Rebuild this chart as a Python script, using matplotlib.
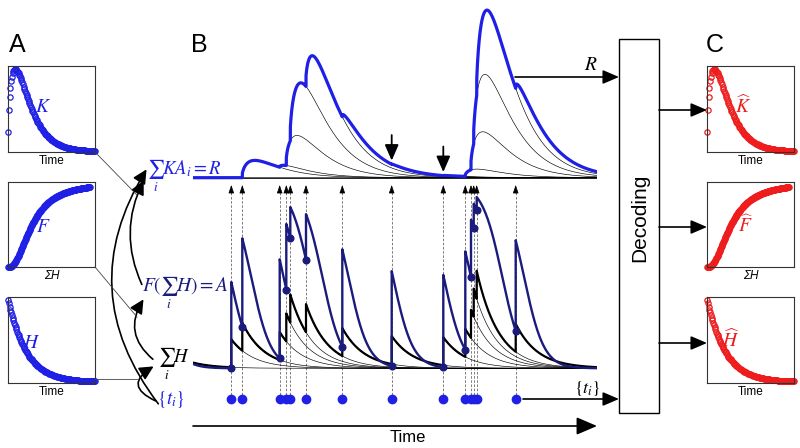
import matplotlib
matplotlib.use('Agg')
import matplotlib.pyplot as plt
import numpy as np
from matplotlib.patches import Rectangle, FancyArrowPatch

plt.rcParams['font.family'] = ['Liberation Sans', 'DejaVu Sans']
plt.rcParams['mathtext.fontset'] = 'stix'

W, HT = 800, 448

# spike times {t_i} in seconds
spike_times = np.array([0.383, 0.493, 0.867, 0.933, 0.973, 1.130, 1.493, 1.987,
                        2.503, 2.723, 2.780, 2.807, 2.837, 3.227])
prior_spike = -0.35        # spike before the window, its H tail shows at t = 0
silent_spikes = [7, 8]     # spikes with A_i = 0, marked with the down arrows
t_end = 4.04

# model parameters
tau_h = 0.22                          # decay of H (s)
f_max, f_half, f_hill = 6.6, 1.1, 2.2  # F(sum H), hill shape
k_peak, k_shape, k_offset = 0.13, 0.6, 0.0043

# sample ranges shown in the small kernel boxes
k_box_len, h_box_len, f_box_len = 1.57, 1.05, 3.76
n_k, n_h, n_f = 120, 120, 200

blue = '#1f1fe6'
navy = '#1b1b7d'
red = '#ee1c1c'


def H(t):
    return np.where(t >= 0, np.exp(-np.clip(t, 0, None) / tau_h), 0.0)


def F(x):
    return f_max * x**f_hill / (x**f_hill + f_half**f_hill)


def K(t):
    x = (np.clip(t, 0, None) + k_offset) / k_peak
    return np.where(t >= 0, (x * np.exp(1 - x))**k_shape, 0.0)


# ---- model traces ----
t = np.sort(np.concatenate([np.linspace(0, t_end, 4000), spike_times, spike_times - 1e-6]))
all_spikes = np.concatenate([[prior_spike], spike_times])
h_parts = np.cumsum([H(t - s) for s in all_spikes], axis=0)
sum_h = h_parts[-1]
A = F(sum_h)

pre_h = np.array([H(ti - all_spikes[all_spikes < ti]).sum() for ti in spike_times])
A_i = F(pre_h)
r_parts = np.cumsum([a * K(t - s) for a, s in zip(A_i, spike_times)], axis=0)
R = r_parts[-1]

fig = plt.figure(figsize=(8, 4.48), dpi=100)


def px_axes(x0, y0, x1, y1):
    return fig.add_axes([x0 / W, 1 - y1 / HT, (x1 - x0) / W, (y1 - y0) / HT])


# time axes for dots and dashed arrows (y in pixels)
axT = px_axes(193, 0, 597, 448)
axT.set_xlim(0, t_end)
axT.set_ylim(448, 0)
axT.axis('off')
for ti in spike_times:
    axT.plot([ti, ti], [399, 190], color='#666666', lw=0.6, ls=(0, (3, 2)))
    axT.annotate('', xy=(ti, 185), xytext=(ti, 193),
                 arrowprops=dict(arrowstyle='-|>,head_length=0.5,head_width=0.17',
                                 color='k', lw=0.5, mutation_scale=10,
                                 shrinkA=0, shrinkB=0))
axT.plot(spike_times, np.full(len(spike_times), 399), 'o', color=blue, ms=6)

# panel B, sum H and A
a_base, a_scale = 368.3, 28.0
axA = px_axes(193, 190, 597, 380)
axA.set_xlim(0, t_end)
axA.set_ylim(-(380 - a_base) / a_scale, (a_base - 190) / a_scale)
axA.axis('off')
for part in h_parts[:-1]:
    axA.plot(t, part, color='k', lw=0.45)
axA.plot(t, sum_h, color='k', lw=1.6)
axA.plot(t, A, color=navy, lw=1.7)
axA.plot(spike_times, A_i, 'o', color=navy, ms=4.8)

# panel B, R
r_base, r_scale = 177.7, 11.6
axR = px_axes(193, 0, 597, 186)
axR.set_xlim(0, t_end)
axR.set_ylim(-(186 - r_base) / r_scale, r_base / r_scale)
axR.axis('off')
axR.axhline(0, color='k', lw=0.6)
for part in r_parts[:-1]:
    axR.plot(t, part, color='k', lw=0.45)
axR.plot(t, R, color=blue, lw=2.3)
for i in silent_spikes:
    r_here = np.interp(spike_times[i], t, R)
    axR.annotate('', xy=(spike_times[i], r_here + 0.3), xytext=(spike_times[i], r_here + 2.5),
                 arrowprops=dict(arrowstyle='-|>,head_length=0.8,head_width=0.35',
                                 color='k', lw=1.3, mutation_scale=12,
                                 shrinkA=0, shrinkB=0))

# small kernel boxes, panels A and C
tk = np.linspace(0, k_box_len, n_k)
th = np.linspace(0, h_box_len, n_h)
xf = np.linspace(0, f_box_len, n_f)
boxes = [(66, 152.3, tk, K(tk), (0, k_box_len), (-0.01, 1.04), 'Time'),
         (181.7, 267.3, xf, F(xf), (0, 4.0), (0, f_max), 'ΣH'),
         (297, 383, th, H(th), (0, h_box_len), (-0.01, 1.04), 'Time')]
for bx0, color in [(8.3, blue), (707.3, red)]:
    for y0, y1, xs, ys, xl, yl, lab in boxes:
        ax = px_axes(bx0, y0, bx0 + 86.7, y1)
        ax.plot(xs, ys, 'o', mfc='none', mec=color, ms=3.8, mew=0.9, clip_on=False)
        ax.set_xlim(*xl)
        ax.set_ylim(*yl)
        ax.set_xticks([])
        ax.set_yticks([])
        for s in ax.spines.values():
            s.set_linewidth(0.8)
            s.set_color('#333333')
        ax.set_xlabel(lab, fontsize=8.5, labelpad=2,
                      fontstyle='italic' if lab == 'ΣH' else 'normal')

# overlay for text, arrows and boxes
ov = fig.add_axes([0, 0, 1, 1])
ov.set_xlim(0, W)
ov.set_ylim(HT, 0)
ov.axis('off')

for x, y, s in [(17.5, 45, 'A'), (199.5, 45, 'B'), (715, 45, 'C')]:
    ov.text(x, y, s, fontsize=18, ha='center', va='center')

for x, y, s in [(43, 108, '$K$'), (43, 228, '$F$'), (32, 343, '$H$')]:
    ov.text(x, y, s, fontsize=14, color=blue, ha='center', va='center')
for x, y, s in [(743, 106, r'$\widehat{K}$'), (746, 225, r'$\widehat{F}$'),
                (731, 340, r'$\widehat{H}$')]:
    ov.text(x, y, s, fontsize=14, color=red, ha='center', va='center')

ov.text(147, 176, r'$\sum_i KA_i = R$', fontsize=13.5, color=blue, va='center')
ov.text(142, 293, r'$F(\sum_i H) = A$', fontsize=14, color=navy, va='center')
ov.text(158, 364, r'$\sum_i H$', fontsize=13.5, color='k', va='center')
ov.text(157, 400, r'$\{t_i\}$', fontsize=13.5, color=blue, va='center')

# connector lines from the kernel boxes
for p, q in [((95, 152), (137, 195)), ((95, 267), (137, 317)), ((95, 379), (137, 379))]:
    ov.plot([p[0], q[0]], [p[1], q[1]], color='#444444', lw=0.6)

# curved arrows between the equations
for a, b, rad in [((158, 402), (156, 365), -1.0),
                  ((160, 406), (148, 167), -0.35),
                  ((155, 361), (145, 297), -0.46),
                  ((143, 287), (145, 178), -0.25)]:
    ov.add_patch(FancyArrowPatch(a, b, connectionstyle=f'arc3,rad={rad}',
                                 arrowstyle='-|>,head_length=0.7,head_width=0.35',
                                 mutation_scale=12, lw=1.2, color='k'))

# decoding box and arrows
ov.add_patch(Rectangle((619, 39.3), 40.3, 373.4, fill=False, lw=1.0, ec='k'))
ov.text(639.5, 218, 'Decoding', fontsize=15, rotation=90, ha='center', va='center')


def arrow(p, q, scale=14):
    ov.annotate('', xy=q, xytext=p,
                arrowprops=dict(arrowstyle='-|>,head_length=0.7,head_width=0.3',
                                color='k', lw=1.2, mutation_scale=scale,
                                shrinkA=0, shrinkB=0))


arrow((515, 77), (619, 77))
arrow((523, 399), (619, 399))
for y in [110, 227, 343]:
    arrow((659, y), (707, y))
arrow((193, 426), (597, 426), 18)
ov.text(591, 66, '$R$', fontsize=14, ha='center', va='center')
ov.text(587, 389, r'$\{t_i\}$', fontsize=13, ha='center', va='center')
ov.text(408, 437, 'Time', fontsize=12, ha='center', va='center')

fig.savefig('out.png', dpi=100)
